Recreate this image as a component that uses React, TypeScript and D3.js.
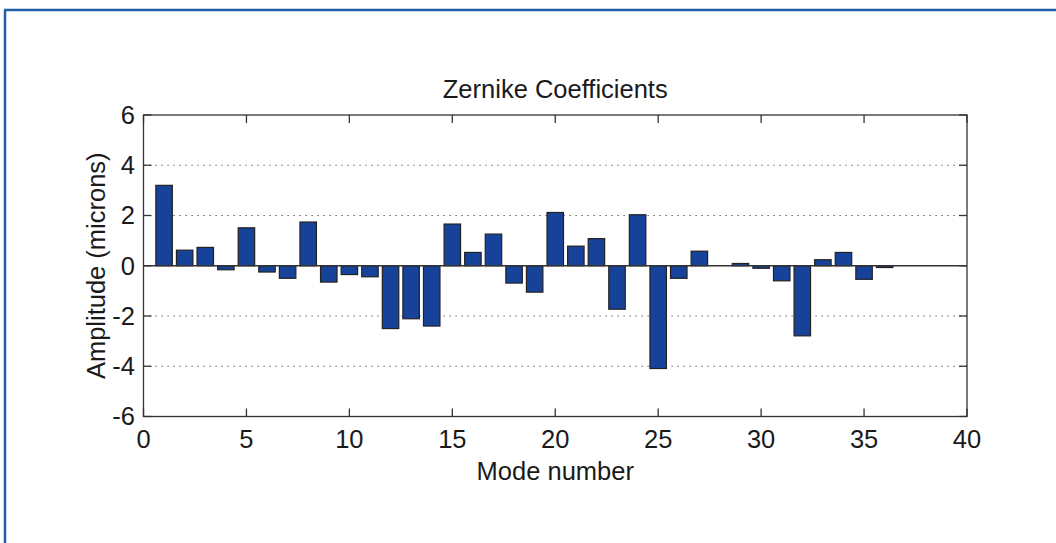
import React from "react";
import * as d3 from "d3";

const modes = [1,2,3,4,5,6,7,8,9,10,11,12,13,14,15,16,17,18,19,20,21,22,23,24,25,26,27,28,29,30,31,32,33,34,35,36];
const amplitudes = [3.2,0.62,0.73,-0.16,1.51,-0.25,-0.5,1.74,-0.65,-0.35,-0.44,-2.5,-2.11,-2.4,1.66,0.53,1.26,-0.69,-1.05,2.12,0.78,1.08,-1.73,2.03,-4.09,-0.5,0.58,0,0.09,-0.1,-0.6,-2.79,0.24,0.53,-0.54,-0.07];
const xTicks = [0,5,10,15,20,25,30,35,40];
const yTicks = [-6,-4,-2,0,2,4,6];
const gridValues = [-4,-2,2,4];
const title = "Zernike Coefficients";
const xLabel = "Mode number";
const yLabel = "Amplitude (microns)";

export default function App() {
  const W = 1056, H = 543;
  const left = 143.5, right = 967, top = 115, bottom = 416.5;
  const x = d3.scaleLinear().domain([0, 40]).range([left, right]);
  const y = d3.scaleLinear().domain([-6, 6]).range([bottom, top]);
  const barW = x(0.8) - x(0);
  const font = "'Liberation Sans', Arial, sans-serif";
  const fs = 25.5;
  const axisColor = "#333";
  const tickLen = 8;
  return (
    <svg width={W} height={H} style={{ position: "absolute", left: 0, top: 0, background: "#fff" }}>
      <rect x={0} y={0} width={W} height={H} fill="#fff" />
      <line x1={5} y1={10} x2={5} y2={H} stroke="#2060a8" strokeWidth={2.5} />
      <line x1={4} y1={10} x2={W} y2={10} stroke="#2060a8" strokeWidth={2.5} />
      {gridValues.map((v) => (
        <line key={"g" + v} x1={left} x2={right} y1={y(v)} y2={y(v)} stroke="#444" strokeWidth={1} strokeDasharray="1.2,4.8" />
      ))}
      {modes.map((m, i) => {
        const v = amplitudes[i];
        const y0 = y(Math.max(0, v));
        const h = Math.abs(y(v) - y(0));
        return (
          <rect key={"b" + m} x={x(m) - barW / 2} y={y0} width={barW} height={h}
            fill="#17429a" stroke="#222" strokeWidth={1.2} />
        );
      })}
      <line x1={left} x2={right} y1={y(0)} y2={y(0)} stroke={axisColor} strokeWidth={1.3} />
      <rect x={left} y={top} width={right - left} height={bottom - top} fill="none" stroke={axisColor} strokeWidth={1.3} />
      {xTicks.map((t) => (
        <g key={"xt" + t}>
          <line x1={x(t)} x2={x(t)} y1={bottom} y2={bottom - tickLen} stroke={axisColor} strokeWidth={1.3} />
          <line x1={x(t)} x2={x(t)} y1={top} y2={top + tickLen} stroke={axisColor} strokeWidth={1.3} />
          <text x={x(t)} y={448} textAnchor="middle" fontFamily={font} fontSize={fs} fill="#1a1a1a">{t}</text>
        </g>
      ))}
      {yTicks.map((t) => (
        <g key={"yt" + t}>
          <line x1={left} x2={left + tickLen} y1={y(t)} y2={y(t)} stroke={axisColor} strokeWidth={1.3} />
          <line x1={right} x2={right - tickLen} y1={y(t)} y2={y(t)} stroke={axisColor} strokeWidth={1.3} />
          <text x={135} y={y(t)} dy="0.35em" textAnchor="end" fontFamily={font} fontSize={fs} fill="#1a1a1a">{t}</text>
        </g>
      ))}
      <text x={(left + right) / 2} y={97.5} textAnchor="middle" fontFamily={font} fontSize={fs} fill="#1a1a1a">{title}</text>
      <text x={(left + right) / 2} y={480} textAnchor="middle" fontFamily={font} fontSize={fs} fill="#1a1a1a">{xLabel}</text>
      <text transform={`translate(105, ${(top + bottom) / 2}) rotate(-90)`} textAnchor="middle" fontFamily={font} fontSize={fs} fill="#1a1a1a">{yLabel}</text>
    </svg>
  );
}
